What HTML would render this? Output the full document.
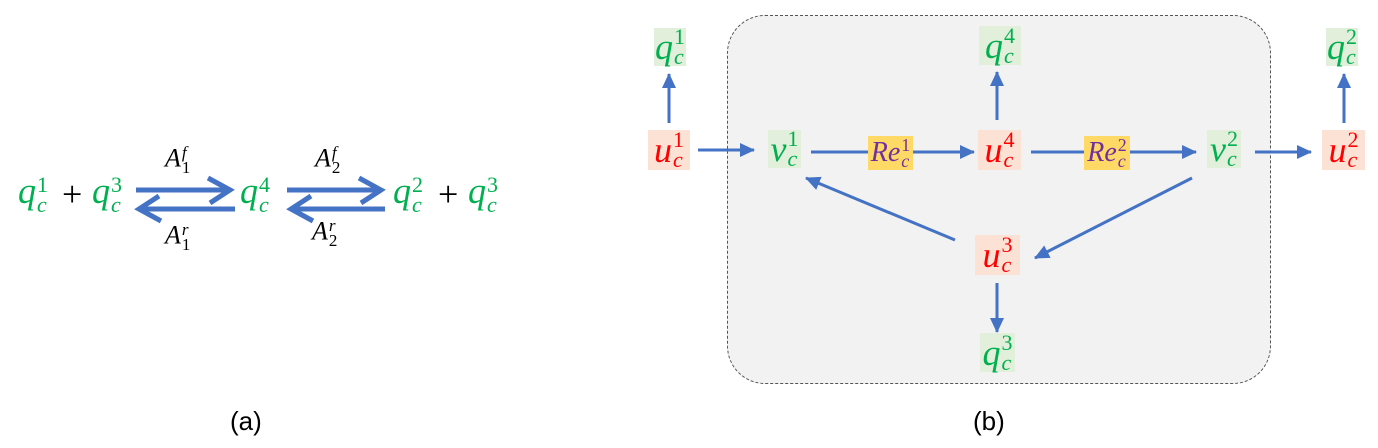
<!DOCTYPE html>
<html><head><style>
body{margin:0;width:1378px;height:448px;background:#fff;position:relative;overflow:hidden;font-family:"Liberation Serif",serif}
.m{position:absolute;font-style:italic;font-size:36px;line-height:1;white-space:nowrap}
.g{color:#00b050}.r{color:#ff0000}.p{color:#7030a0}.k{color:#000}
.box{position:absolute;display:flex;align-items:center;justify-content:center}
.s{display:inline-flex;flex-direction:column;vertical-align:middle;font-size:22px;line-height:0.9;font-style:normal;margin-left:1px}
.lab{position:absolute;font-family:"Liberation Sans",sans-serif;font-size:26px;color:#000}
</style></head><body>
<div style="position:absolute;left:727px;top:15px;width:542px;height:367px;border:1px dashed #555;border-radius:38px;background:#f2f2f2"></div>
<svg width="1378" height="448" style="position:absolute;left:0;top:0">
<defs>
<marker id="b" markerWidth="16" markerHeight="16" refX="14" refY="8" orient="auto" markerUnits="userSpaceOnUse"><path d="M0,1L15,8L0,15z" fill="#4472c4"/></marker></defs>
<g stroke="#4472c4" stroke-width="3" fill="none">
<line x1="698" y1="150" x2="754" y2="150" marker-end="url(#b)"/>
<line x1="811" y1="152" x2="974" y2="152" marker-end="url(#b)"/>
<line x1="1031" y1="152" x2="1196" y2="152" marker-end="url(#b)"/>
<line x1="1255" y1="152" x2="1311" y2="152" marker-end="url(#b)"/>
<line x1="669" y1="123" x2="669" y2="74" marker-end="url(#b)"/>
<line x1="997" y1="120" x2="997" y2="72" marker-end="url(#b)"/>
<line x1="1344" y1="123" x2="1344" y2="74" marker-end="url(#b)"/>
<line x1="997" y1="283" x2="997" y2="332" marker-end="url(#b)"/>
<line x1="955" y1="240" x2="806" y2="178" marker-end="url(#b)"/>
<line x1="1192" y1="178" x2="1035" y2="258" marker-end="url(#b)"/>
</g>
<g stroke="#4472c4" stroke-width="5" fill="none" stroke-linejoin="miter">
<path d="M136,190H230M208,178L230,190L210,203"/>
<path d="M235,209H139M161,221L139,209L159,196"/>
<path d="M287,190H381M359,178L381,190L361,203"/>
<path d="M385,209H291M313,221L291,209L311,196"/>
</g>
</svg>
<!-- (a) -->
<div class="m g" style="left:18px;top:173px">q<span class="s"><span>1</span><span style="font-style:italic">c</span></span></div>
<div class="m k" style="left:62px;top:176px;font-style:normal">+</div>
<div class="m g" style="left:92px;top:173px">q<span class="s"><span>3</span><span style="font-style:italic">c</span></span></div>
<div class="m g" style="left:240px;top:173px">q<span class="s"><span>4</span><span style="font-style:italic">c</span></span></div>
<div class="m g" style="left:393px;top:173px">q<span class="s"><span>2</span><span style="font-style:italic">c</span></span></div>
<div class="m k" style="left:438px;top:176px;font-style:normal">+</div>
<div class="m g" style="left:468px;top:173px">q<span class="s"><span>3</span><span style="font-style:italic">c</span></span></div>
<div class="m k" style="left:165px;top:145px;font-size:26px">A<span class="s" style="font-size:17px"><span style="font-style:italic">f</span><span>1</span></span></div>
<div class="m k" style="left:165px;top:222px;font-size:26px">A<span class="s" style="font-size:17px"><span style="font-style:italic">r</span><span>1</span></span></div>
<div class="m k" style="left:315px;top:145px;font-size:26px">A<span class="s" style="font-size:17px"><span style="font-style:italic">f</span><span>2</span></span></div>
<div class="m k" style="left:312px;top:218px;font-size:26px">A<span class="s" style="font-size:17px"><span style="font-style:italic">r</span><span>2</span></span></div>
<!-- (b) boxes -->
<div class="box m g" style="left:654px;top:28px;width:32px;height:38px;background:#e2efda">q<span class="s"><span>1</span><span style="font-style:italic">c</span></span></div>
<div class="box m g" style="left:979px;top:26px;width:42px;height:39px;background:#e2efda">q<span class="s"><span>4</span><span style="font-style:italic">c</span></span></div>
<div class="box m g" style="left:1326px;top:28px;width:32px;height:38px;background:#e2efda">q<span class="s"><span>2</span><span style="font-style:italic">c</span></span></div>
<div class="box m g" style="left:980px;top:333px;width:35px;height:39px;background:#e2efda">q<span class="s"><span>3</span><span style="font-style:italic">c</span></span></div>
<div class="box m r" style="left:648px;top:130px;width:42px;height:40px;background:#fbe2d5">u<span class="s"><span>1</span><span style="font-style:italic">c</span></span></div>
<div class="box m r" style="left:978px;top:130px;width:43px;height:40px;background:#fbe2d5">u<span class="s"><span>4</span><span style="font-style:italic">c</span></span></div>
<div class="box m r" style="left:1322px;top:130px;width:43px;height:40px;background:#fbe2d5">u<span class="s"><span>2</span><span style="font-style:italic">c</span></span></div>
<div class="box m r" style="left:975px;top:235px;width:45px;height:40px;background:#fbe2d5">u<span class="s"><span>3</span><span style="font-style:italic">c</span></span></div>
<div class="box m g" style="left:768px;top:130px;width:33px;height:38px;background:#e2efda">v<span class="s"><span>1</span><span style="font-style:italic">c</span></span></div>
<div class="box m g" style="left:1207px;top:130px;width:34px;height:38px;background:#e2efda">v<span class="s"><span>2</span><span style="font-style:italic">c</span></span></div>
<div class="box m p" style="left:868px;top:136px;width:45px;height:34px;background:#ffd966;font-size:28px">Re<span class="s" style="font-size:18px"><span>1</span><span style="font-style:italic">c</span></span></div>
<div class="box m p" style="left:1084px;top:136px;width:46px;height:34px;background:#ffd966;font-size:28px">Re<span class="s" style="font-size:18px"><span>2</span><span style="font-style:italic">c</span></span></div>
<div class="lab" style="left:230px;top:406px">(a)</div>
<div class="lab" style="left:973px;top:406px">(b)</div>
</body></html>
